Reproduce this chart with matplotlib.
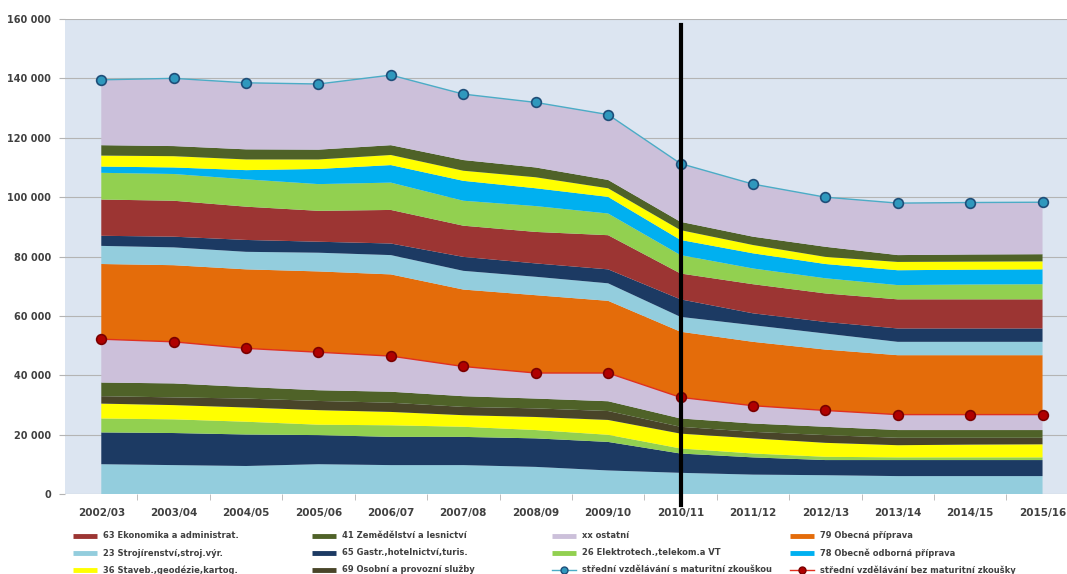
import numpy as np
import matplotlib.pyplot as plt
from matplotlib.lines import Line2D
from matplotlib.ticker import FuncFormatter, MultipleLocator

years = ['2002/03', '2003/04', '2004/05', '2005/06', '2006/07', '2007/08', '2008/09',
         '2009/10', '2010/11', '2011/12', '2012/13', '2013/14', '2014/15', '2015/16']

# lower block - obory bez maturitni zkousky
bm_23 = [10100, 9800, 9500, 10100, 9800, 9800, 9200, 8000, 7200, 6600, 6400, 6100, 6100, 6100]
bm_65 = [10700, 10800, 10600, 9800, 9500, 9500, 9600, 9600, 6500, 5800, 5100, 5400, 5400, 5400]
bm_26 = [4700, 4600, 4300, 3500, 3900, 3400, 2800, 2400, 1700, 1300, 1100, 900, 900, 900]
bm_36 = [5000, 4800, 4800, 4900, 4500, 3900, 4400, 5000, 5000, 5100, 4700, 4100, 4300, 4400]
bm_69 = [2500, 2600, 3000, 3100, 3100, 2800, 2900, 3000, 2300, 2200, 2600, 2500, 2300, 2200]
bm_41 = [4600, 4700, 3900, 3600, 3700, 3600, 3300, 3300, 2800, 2800, 2800, 2600, 2600, 2600]
bm_xx = [14600, 14000, 13000, 12800, 12000, 10000, 8600, 9500, 7100, 6000, 5500, 5200, 5200, 5200]

# upper block - obory s maturitni zkouskou
sm_79 = [25300, 25800, 26600, 27200, 27500, 25900, 26200, 24300, 22100, 21500, 20500, 20000, 20000, 20000]
sm_23 = [6100, 6000, 5900, 6300, 6500, 6300, 6200, 5900, 5000, 5600, 5400, 4500, 4500, 4500]
sm_65 = [3400, 3600, 4000, 3700, 3900, 4700, 4500, 4700, 5900, 4000, 3900, 4500, 4500, 4500]
sm_63 = [12200, 12100, 11200, 10400, 11300, 10500, 10600, 11500, 8700, 9800, 9600, 9800, 9800, 9800]
sm_26 = [9000, 9000, 9200, 9000, 9200, 8400, 8700, 7300, 6200, 5300, 5100, 4800, 5000, 5100]
sm_78 = [2100, 2200, 3100, 5100, 5900, 6700, 6000, 5600, 5100, 5100, 4800, 5000, 5000, 5000]
sm_36 = [3700, 3800, 3600, 3200, 3400, 3400, 3700, 2900, 3300, 2800, 2400, 2800, 2700, 2700]
sm_41 = [3500, 3400, 3400, 3300, 3300, 3600, 3300, 2800, 2800, 2800, 3400, 2300, 2400, 2400]
sm_xx = [22000, 22800, 22400, 22100, 23600, 22200, 21900, 22000, 19600, 17700, 16700, 17500, 17500, 17500]

# lines
line_s_mat = [139500, 140000, 138500, 138100, 141100, 134700, 131900, 127800, 111300, 104400, 100000, 98000, 98200, 98300]
line_bez_mat = [52200, 51300, 49100, 47800, 46500, 43000, 40800, 40800, 32600, 29800, 28200, 26800, 26800, 26800]

colors = {
    '23': '#93cddd', '65': '#1c3a63', '63': '#9c3533', '26': '#92d050', '78': '#00b0f0',
    '36': '#ffff00', '41': '#4f6228', '69': '#494529', 'xx': '#ccc0da', '79': '#e46c0a',
}

layers = [(bm_23, '23'), (bm_65, '65'), (bm_26, '26'), (bm_36, '36'), (bm_69, '69'),
          (bm_41, '41'), (bm_xx, 'xx'),
          (sm_79, '79'), (sm_23, '23'), (sm_65, '65'), (sm_63, '63'), (sm_26, '26'),
          (sm_78, '78'), (sm_36, '36'), (sm_41, '41'), (sm_xx, 'xx')]

fig = plt.figure(figsize=(10.67, 5.74), dpi=100)
ax = fig.add_axes([0.061, 0.139, 0.95, 0.828])
ax.set_facecolor('#dce5f1')

x = np.arange(len(years))
ax.stackplot(x, *[np.array(v) for v, _ in layers],
             colors=[colors[k] for _, k in layers], linewidth=0, zorder=2)

ax.plot(x, line_s_mat, color='#4bacc6', lw=1, marker='o', ms=7,
        mfc='#2f98bd', mec='#1f4e79', mew=1.2, zorder=4)
ax.plot(x, line_bez_mat, color='#e03020', lw=1, marker='o', ms=7,
        mfc='#b00000', mec='#7a0000', mew=1.2, zorder=4)

# dividing line at 2010/11
xd = years.index('2010/11')
ax.plot([xd, xd], [-3700, 158000], color='black', lw=3, clip_on=False, zorder=5)

ax.set_xlim(-0.5, len(years) - 0.5)
ax.set_ylim(0, 160000)
ax.yaxis.set_major_locator(MultipleLocator(20000))
ax.yaxis.set_major_formatter(FuncFormatter(lambda v, p: f'{int(v):,}'.replace(',', ' ')))
ax.grid(axis='y', color='#b4b4b4', lw=0.8, zorder=1)
ax.set_axisbelow(True)

ax.set_xticks(x)
ax.set_xticklabels(years)
ax.set_xticks(x[:-1] + 0.5, minor=True)
ax.tick_params(axis='x', which='major', length=0, pad=10, labelsize=7.5, labelcolor='#404040')
ax.tick_params(axis='x', which='minor', length=4, color='#b4b4b4', direction='out')
ax.tick_params(axis='y', length=4, color='#b4b4b4', labelsize=7, labelcolor='#404040', pad=6)
for lab in ax.get_xticklabels() + ax.get_yticklabels():
    lab.set_fontweight('bold')
for s in ax.spines.values():
    s.set_visible(False)

# legend below the chart, drawn entry by entry
legend_items = [
    ('63', '63 Ekonomika a administrat.'), ('41', '41 Zemědělství a lesnictví'),
    ('xx', 'xx ostatní'), ('79', '79 Obecná příprava'),
    ('23', '23 Strojírenství,stroj.výr.'), ('65', '65 Gastr.,hotelnictví,turis.'),
    ('26', '26 Elektrotech.,telekom.a VT'), ('78', '78 Obecně odborná příprava'),
    ('36', '36 Staveb.,geodézie,kartog.'), ('69', '69 Osobní a provozní služby'),
    ('s', 'střední vzdělávání s maturitní zkouškou'), ('b', 'střední vzdělávání bez maturitní zkoušky'),
]
W, H = 1067, 574
col_x = [73, 312, 552, 790]
row_y = [536, 553, 570]
for i, (key, text) in enumerate(legend_items):
    cx, cy = col_x[i % 4], row_y[i // 4]
    xs = [cx / W, (cx + 24) / W]
    ys = [1 - cy / H] * 2
    if key == 's':
        fig.add_artist(Line2D(xs, ys, color='#4bacc6', lw=1))
        fig.add_artist(Line2D([(cx + 12) / W], [ys[0]], marker='o', ms=5,
                              mfc='#2f98bd', mec='#1f4e79'))
    elif key == 'b':
        fig.add_artist(Line2D(xs, ys, color='#e03020', lw=1))
        fig.add_artist(Line2D([(cx + 12) / W], [ys[0]], marker='o', ms=5,
                              mfc='#b00000', mec='#7a0000'))
    else:
        fig.add_artist(Line2D(xs, ys, color=colors[key], lw=3.5, solid_capstyle='butt'))
    fig.text((cx + 30) / W, ys[0], text, fontsize=6, fontweight='bold',
             color='#404040', va='center', ha='left')

fig.savefig('out.png', dpi=100)
